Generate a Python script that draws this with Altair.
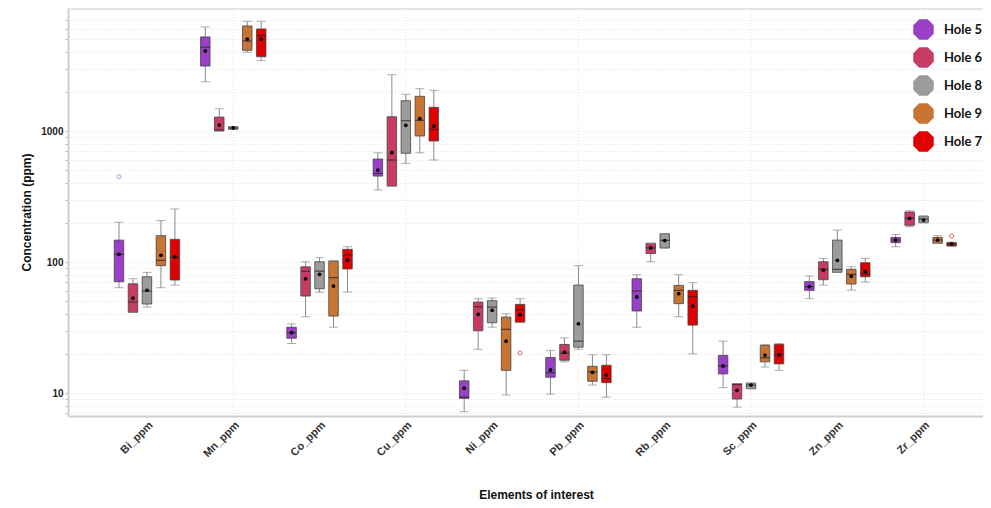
import altair as alt
import pandas as pd

elements = ["Bi_ppm", "Mn_ppm", "Co_ppm", "Cu_ppm", "Ni_ppm",
            "Pb_ppm", "Rb_ppm", "Sc_ppm", "Zn_ppm", "Zr_ppm"]
holes = ["Hole 5", "Hole 6", "Hole 8", "Hole 9", "Hole 7"]
hole_colors = ["#9a40c8", "#c83c64", "#9b9b9b", "#c87534", "#df0000"]

# per element: values for holes in order [5, 6, 8, 9, 7]
whisker_low = [
    [63.7, 41.3, 45.3, 63.7, 66.7],
    [2377, 1000, 1030, 3990, 3445],
    [23.9, 38.2, 58.7, 31.8, 59],
    [355, 380, 566, 682, 601],
    [7.2, 21.6, 31.8, 9.66, 34.7],
    [9.8, 17.3, 21.6, 11.5, 9.3],
    [31.8, 100.5, 128, 38.2, 19.9],
    [11.0, 7.8, 10.8, 15.8, 14.9],
    [52.5, 66.7, 83.4, 61.1, 70.3],
    [130.8, 186, 199.6, 139, 132.4],
]
q1 = [
    [70.8, 41.3, 47.8, 93.8, 72.9],
    [3133, 1000, 1030, 4130, 3690],
    [26.2, 55, 62.5, 38.7, 88.5],
    [453, 380, 676, 916, 839],
    [9.1, 29.9, 34.4, 14.9, 34.7],
    [13.2, 17.8, 22.4, 12.3, 12.0],
    [42.3, 116, 128, 48.1, 33.0],
    [14.0, 9.0, 10.8, 17.3, 16.7],
    [60.8, 73.3, 83.4, 67.9, 77.2],
    [140.5, 190.6, 199.6, 139, 132.4],
]
median = [
    [114.6, 49.5, 60.1, 103, 108.6],
    [4357, 1020, 1055, 4866, 5334],
    [28.9, 84.9, 85.3, 75.9, 113],
    [475, 601, 1199, 1208, 1030],
    [9.3, 45.6, 45.3, 30.6, 43.2],
    [14.3, 20.1, 24.9, 14.5, 12.9],
    [60.1, 128, 146.5, 60.8, 54.4],
    [16.1, 11.6, 11.5, 18.6, 19.6],
    [64.8, 88, 88, 80.5, 81],
    [147, 215.8, 213, 147, 137],
]
q3 = [
    [147, 68.2, 77.2, 159, 149],
    [5224, 1278, 1079, 6336, 6011],
    [31.8, 92, 100.5, 101.9, 125],
    [611, 1285, 1703, 1841, 1517],
    [12.4, 49.5, 50.7, 38.0, 47.5],
    [18.7, 23.5, 66.7, 16.0, 16.3],
    [74.6, 139, 164.5, 66.3, 60.8],
    [19.4, 11.8, 11.9, 23.1, 23.5],
    [70.8, 100.5, 147, 87.9, 98.8],
    [154, 241, 224, 154, 141.3],
]
whisker_high = [
    [201, 74.6, 83.4, 207, 254],
    [6223, 1479, 1079, 6874, 6874],
    [33.7, 100.5, 107.9, 101.9, 130.9],
    [682, 2692, 1906, 2104, 2048],
    [14.9, 52.5, 53.1, 40.3, 52.5],
    [21.1, 26.4, 93.8, 19.6, 19.6],
    [80, 139, 164.5, 80, 69.5],
    [24.9, 11.8, 11.9, 23.5, 23.9],
    [78.2, 106.6, 175.5, 92, 106.6],
    [162.6, 246, 224, 159, 141.3],
]
mean = [
    [114.6, 53.1, 60.8, 112.5, 109.7],
    [4083, 1111, 1055, 5035, 5010],
    [28.9, 74.5, 80.5, 65.6, 103.5],
    [504, 683, 1105, 1242, 1092],
    [10.9, 39.9, 42.8, 24.9, 39.6],
    [15.0, 20.5, 33.8, 14.4, 13.7],
    [54.1, 128, 145.7, 57.3, 46.1],
    [16.1, 10.5, 11.5, 19.5, 19.6],
    [64.8, 86.9, 103, 77.8, 84.3],
    [147, 215.8, 209, 147, 137.5],
]
outlier_element = ["Bi_ppm", "Ni_ppm", "Zr_ppm"]
outlier_hole = ["Hole 5", "Hole 7", "Hole 7"]
outlier_value = [448, 20.2, 158]

rows = []
for i, el in enumerate(elements):
    for j, h in enumerate(holes):
        rows.append(dict(element=el, hole=h, lo=whisker_low[i][j], q1=q1[i][j],
                         med=median[i][j], q3=q3[i][j], hi=whisker_high[i][j],
                         mean=mean[i][j]))
df = pd.DataFrame(rows)
df_out = pd.DataFrame(dict(element=outlier_element, hole=outlier_hole, value=outlier_value))
df_grid = pd.DataFrame(dict(element=elements[1::2]))

W, H = 915, 408
FONT = "Liberation Sans"
GRID = "#e2e2e2"

xenc = alt.X("element:N", sort=elements,
             scale=alt.Scale(paddingInner=0.19, paddingOuter=0.3965, align=0.643),
             axis=alt.Axis(title="Elements of interest", labelAngle=-45,
                           labelAlign="right", labelBaseline="top",
                           labelFontSize=11, labelFontWeight="bold", labelColor="#333",
                           labelFont=FONT, labelPadding=3, ticks=False, grid=False,
                           domainColor="#cfcfcf", domainWidth=2,
                           titleFont=FONT, titleFontSize=12, titleFontWeight="bold",
                           titleColor="#111", titleX=468, titleY=78,
                           titleBaseline="middle"))
xoff = alt.XOffset("hole:N", sort=holes, scale=alt.Scale(paddingInner=0, paddingOuter=0))

ylog = alt.Scale(type="log", domain=[6.68, 8690], nice=False)
minor_vals = [v * m for m in (1, 10, 100, 1000) for v in range(1, 10)][6:34]
yaxis = alt.Axis(title="Concentration (ppm)", values=minor_vals,
                 labelExpr="(datum.value == 10 || datum.value == 100 || datum.value == 1000) ? '' + datum.value : ''",
                 labelFontSize=10, labelFontWeight="bold", labelColor="#222", labelFont=FONT,
                 tickSize=3, tickColor="#bbb", labelPadding=2,
                 gridColor=GRID, gridDash=[1, 2], gridWidth=1,
                 domainColor="#cfcfcf", domainWidth=2,
                 titleFont=FONT, titleFontSize=12, titleFontWeight="bold",
                 titleColor="#111", titlePadding=7)

color_scale = alt.Scale(domain=holes, range=hole_colors)
octagon = "M-0.414,-1L0.414,-1L1,-0.414L1,0.414L0.414,1L-0.414,1L-1,0.414L-1,-0.414Z"

base = alt.Chart(df)

vgrid = alt.Chart(df_grid).mark_rule(color=GRID, strokeDash=[1, 2], strokeWidth=1).encode(
    x=alt.X("element:N", sort=elements), y=alt.value(0), y2=alt.value(H))

topline = alt.Chart(df_grid).mark_rule(color="#e4e4e4", strokeWidth=3).encode(
    x=alt.value(0), x2=alt.value(W), y=alt.value(0))

whisk = base.mark_rule(color="#8a8a8a", strokeWidth=1).encode(
    x=xenc, xOffset=xoff,
    y=alt.Y("lo:Q", scale=ylog, axis=yaxis), y2="hi:Q")

caps_lo = base.mark_tick(color="#8a8a8a", size=9, thickness=1).encode(
    x=alt.X("element:N", sort=elements), xOffset=xoff, y="lo:Q")
caps_hi = base.mark_tick(color="#8a8a8a", size=9, thickness=1).encode(
    x=alt.X("element:N", sort=elements), xOffset=xoff, y="hi:Q")

boxes = base.mark_bar(size=9.5, stroke="#444", strokeWidth=0.8, opacity=1).encode(
    x=alt.X("element:N", sort=elements), xOffset=xoff,
    y="q1:Q", y2="q3:Q",
    color=alt.Color("hole:N", scale=color_scale, sort=holes,
                    legend=alt.Legend(title=None, orient="none", legendX=845, legendY=11,
                                      symbolType=octagon, symbolSize=420,
                                      symbolStrokeWidth=0, symbolOpacity=1,
                                      labelFont="Lato", labelFontSize=13,
                                      labelFontWeight="bold", labelColor="#111",
                                      labelOffset=10, rowPadding=7, padding=0)))

med_tick = base.mark_tick(color="#222", size=9.5, thickness=1.2).encode(
    x=alt.X("element:N", sort=elements), xOffset=xoff, y="med:Q")

mean_pt = base.mark_point(filled=True, color="#000", size=14, opacity=1).encode(
    x=alt.X("element:N", sort=elements), xOffset=xoff, y="mean:Q")

outl = alt.Chart(df_out).mark_point(filled=False, size=16, strokeWidth=1, opacity=0.6).encode(
    x=alt.X("element:N", sort=elements), xOffset=alt.XOffset("hole:N", sort=holes),
    y="value:Q",
    color=alt.Color("hole:N", scale=color_scale, legend=None))

chart = alt.layer(vgrid, topline, whisk, boxes, med_tick, caps_lo, caps_hi, mean_pt, outl).properties(
    width=W, height=H,
    autosize=alt.AutoSizeParams(type="none"),
    padding={"left": 60, "top": 0, "right": 0, "bottom": 84},
    background="white",
).configure_view(strokeWidth=0)

chart.save("out.html", embed_options={"renderer": "svg", "actions": False})
